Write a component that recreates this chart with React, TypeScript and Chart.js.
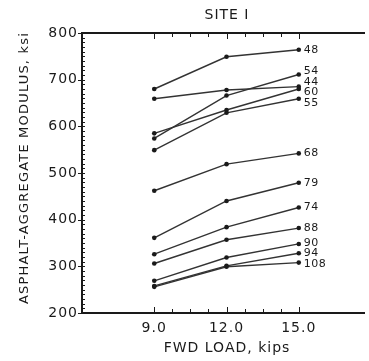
import React, { useEffect, useRef } from "react";
import { Chart, registerables } from "chart.js";

Chart.register(...registerables);

// ---- data ----
const loads = [9.0, 12.0, 15.0];
const xTickValues = [9.0, 12.0, 15.0];
const yTickStep = 100;
const sectionNames = ["48", "54", "44", "60", "55", "68", "79", "74", "88", "90", "94", "108"];
const s48 = [680, 749, 764];
const s54 = [574, 666, 711];
const s44 = [659, 678, 685];
const s60 = [585, 635, 680];
const s55 = [549, 629, 659];
const s68 = [462, 519, 542];
const s79 = [361, 440, 479];
const s74 = [326, 384, 426];
const s88 = [306, 357, 382];
const s90 = [269, 319, 348];
const s94 = [258, 301, 328];
const s108 = [256, 299, 308];
const seriesValues = [s48, s54, s44, s60, s55, s68, s79, s74, s88, s90, s94, s108];

const chartTitle = "SITE I";
const xTitle = "FWD LOAD, kips";
const yTitle = "ASPHALT-AGGREGATE MODULUS, ksi";

const INK = "#1a1a1a";
const FONT = "'DejaVu Sans', sans-serif";

const decorPlugin = {
  id: "decor",
  beforeDraw(chart: any) {
    const ctx = chart.ctx;
    (ctx as any).letterSpacing = "1px";
  },
  afterDraw(chart: any) {
    const ctx = chart.ctx as CanvasRenderingContext2D;
    const { left, right, top, bottom } = chart.chartArea;
    const xs = chart.scales.x;
    const ys = chart.scales.y;
    ctx.save();
    ctx.fillStyle = INK;
    // frame: left, bottom, top
    const L = Math.round(left);
    const T = Math.round(top);
    const B = Math.round(bottom);
    const R = Math.round(right);
    ctx.fillRect(L - 1, T - 1, 2, B - T + 2);
    ctx.fillRect(L - 1, B - 1, R - L + 1, 2);
    ctx.fillRect(L - 1, T - 1, R - L + 1, 2);

    // x inner ticks (top and bottom)
    const xFirst = xTickValues[0];
    const xLast = xTickValues[xTickValues.length - 1];
    const minorX = (xTickValues[1] - xTickValues[0]) / 4;
    for (let v = xFirst; v <= xLast + 1e-6; v += minorX) {
      const px = Math.round(xs.getPixelForValue(v));
      const major = xTickValues.some((t) => Math.abs(t - v) < 1e-6);
      const len = major ? 6 : 4;
      ctx.fillRect(px, B - len, 1, len);
      ctx.fillRect(px, T, 1, len);
    }
    // y ticks
    const yMin = ys.min;
    const yMax = ys.max;
    for (let v = yMin; v <= yMax + 1e-6; v += yTickStep / 10) {
      const py = Math.round(ys.getPixelForValue(v));
      const major = Math.abs(v / yTickStep - Math.round(v / yTickStep)) < 1e-6;
      if (major) {
        ctx.fillRect(L - 4, py, 7, 1);
      } else {
        ctx.fillRect(L, py, 3, 1);
      }
    }

    // end labels with simple collision avoidance
    const items: { name: string; x: number; y: number; pos: number }[] = [];
    chart.data.datasets.forEach((ds: any, i: number) => {
      const meta = chart.getDatasetMeta(i);
      const pt = meta.data[meta.data.length - 1];
      items.push({ name: sectionNames[i], x: pt.x, y: pt.y, pos: pt.y });
    });
    items.sort((a, b) => a.y - b.y);
    const gap = 10.5;
    let clusters = items.map((it) => ({ members: [it], center: it.y }));
    let changed = true;
    while (changed) {
      changed = false;
      for (let i = 0; i < clusters.length - 1; i++) {
        const a = clusters[i];
        const b = clusters[i + 1];
        const aBottom = a.center + ((a.members.length - 1) * gap) / 2;
        const bTop = b.center - ((b.members.length - 1) * gap) / 2;
        if (bTop - aBottom < gap) {
          const members = a.members.concat(b.members);
          const center = members.reduce((s, m) => s + m.y, 0) / members.length;
          clusters.splice(i, 2, { members, center });
          changed = true;
          break;
        }
      }
    }
    clusters.forEach((c) => {
      const start = c.center - ((c.members.length - 1) * gap) / 2;
      c.members.forEach((m, k) => (m.pos = start + k * gap));
    });
    ctx.font = `11px ${FONT}`;
    (ctx as any).letterSpacing = "0.5px";
    ctx.textAlign = "left";
    ctx.textBaseline = "middle";
    items.forEach((it) => ctx.fillText(it.name, it.x + 5, it.pos));

    // titles
    (ctx as any).letterSpacing = "1px";
    ctx.font = `14px ${FONT}`;
    ctx.textAlign = "center";
    ctx.fillText(chartTitle, 227, 15);
    ctx.fillText(xTitle, 227, 348);
    ctx.save();
    ctx.translate(25, 168);
    ctx.rotate(-Math.PI / 2);
    ctx.font = `13px ${FONT}`;
    (ctx as any).letterSpacing = "1.2px";
    ctx.fillText(yTitle, 0, 0);
    ctx.restore();
    ctx.restore();
  },
};

export default function App() {
  const ref = useRef<HTMLCanvasElement | null>(null);
  useEffect(() => {
    if (!ref.current) return;
    const chart = new Chart(ref.current, {
      type: "line",
      data: {
        datasets: seriesValues.map((vals, i) => ({
          label: sectionNames[i],
          data: loads.map((x, j) => ({ x, y: vals[j] })),
          borderColor: "#333333",
          borderWidth: 1.4,
          pointRadius: 2.3,
          pointBackgroundColor: INK,
          pointBorderWidth: 0,
          tension: 0,
        })),
      },
      options: {
        animation: false,
        responsive: false,
        devicePixelRatio: 1,
        layout: { padding: { top: 33, right: 0, left: 0, bottom: 0 } },
        plugins: { legend: { display: false }, tooltip: { enabled: false }, title: { display: false } },
        scales: {
          x: {
            type: "linear",
            min: 6,
            max: 17.75,
            grid: { display: false, drawTicks: false },
            border: { display: false },
            ticks: {
              color: INK,
              font: { family: FONT, size: 14 },
              padding: 7,
              maxRotation: 0,
              callback: (v: any) => Number(v).toFixed(1),
            },
            afterBuildTicks: (s: any) => {
              s.ticks = xTickValues.map((value) => ({ value }));
            },
            afterFit: (s: any) => {
              s.height = 48;
            },
          },
          y: {
            type: "linear",
            min: 200,
            max: 800,
            grid: { display: false, drawTicks: false },
            border: { display: false },
            ticks: {
              stepSize: yTickStep,
              color: INK,
              font: { family: FONT, size: 14 },
              padding: 4,
            },
            afterFit: (s: any) => {
              s.width = 82;
            },
          },
        },
      },
      plugins: [decorPlugin],
    });
    return () => chart.destroy();
  }, []);
  return (
    <div style={{ position: "absolute", left: 0, top: 0, width: 369, height: 361, background: "#fff" }}>
      <canvas ref={ref} width={369} height={361} style={{ width: 369, height: 361, display: "block" }} />
    </div>
  );
}
